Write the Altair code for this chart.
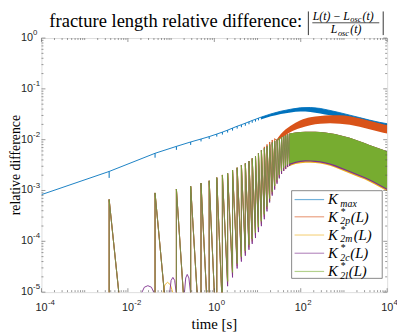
import altair as alt
import pandas as pd

# ---------------- values ----------------
x_domain = [1e-4, 1e4]
y_domain = [1e-5, 1e0]

# oscillation events (times of the spikes) [s]
spike_t = [0.00368, 0.0425, 0.1326, 0.2838, 0.492, 0.761, 1.140, 1.538, 2.031, 2.641,
           3.380, 4.235, 5.224, 6.343, 7.542, 8.969, 10.50, 12.29, 14.38, 16.57,
           19.10, 21.89, 24.96, 28.30, 31.93, 36.03, 40.45, 44.93, 49.89, 55.40]
# value right after each event (K*_2l, the others nearly identical)
green_peak = [6.64e-4, 8.95e-4, 1.07e-3, 1.21e-3, 1.40e-3, 1.55e-3, 1.79e-3, 2.02e-3, 2.18e-3, 2.53e-3,
              2.80e-3, 3.16e-3, 3.41e-3, 3.78e-3, 4.26e-3, 4.73e-3, 5.40e-3, 6.18e-3, 6.76e-3, 7.38e-3,
              8.07e-3, 8.83e-3, 9.44e-3, 1.01e-2, 1.08e-2, 1.13e-2, 1.18e-2, 1.23e-2, 1.29e-2, 1.32e-2]
orange_peak = green_peak[:18] + [7.22e-3, 8.07e-3, 9.02e-3, 9.87e-3, 1.05e-2]
# value just before each event (None = below the axis)
green_trough = [None] * 8 + [1.63e-5, 2.44e-5, 3.65e-5, 4.99e-5, 6.52e-5, 8.51e-5, 1.11e-4, 1.46e-4,
                             1.90e-4, 2.48e-4, 3.40e-4, 4.85e-4, 6.93e-4, 9.48e-4, 1.24e-3, 1.62e-3,
                             2.02e-3, 2.42e-3, 2.77e-3, 3.03e-3, 3.24e-3, 3.38e-3]
yellow_trough = [None] * 8 + [1.46e-5, 2.18e-5, 3.26e-5, 4.46e-5, 5.83e-5, 7.62e-5, 9.95e-5, 1.30e-4,
                              1.70e-4, 2.22e-4, 3.04e-4, 4.34e-4, 6.21e-4, 8.48e-4, 1.11e-3, 1.45e-3,
                              1.81e-3, 2.16e-3, 2.47e-3, 2.70e-3, 2.89e-3, 3.03e-3]
purple_trough = [None] * 8 + [1.31e-5, 1.95e-5, 2.92e-5, 3.99e-5, 5.21e-5, 6.81e-5, 8.91e-5, 1.16e-4,
                              1.52e-4, 1.99e-4, 2.72e-4, 3.88e-4, 5.81e-4, 7.93e-4, 1.04e-3, 1.36e-3,
                              1.73e-3, 2.12e-3, 2.42e-3, 2.64e-3, 2.89e-3, 3.03e-3]
# time where an early decay leaves the axis (1e-5)
floor_hit_t = [6.15e-3, 0.0695, 0.191, 0.399, 0.658, 1.0, 1.48] + [None] * 23

# small bumps near the bottom axis
purple_arc_t = [[0.020, 0.024, 0.029, 0.035, 0.0418],
                [0.0918, 0.100, 0.110, 0.121, 0.1326],
                [0.2018, 0.218, 0.236, 0.258, 0.2838]]
purple_arc_v = [[9e-6, 1.25e-5, 1.34e-5, 1.25e-5, 9e-6],
                [9e-6, 1.7e-5, 1.95e-5, 1.7e-5, 9e-6],
                [9e-6, 1.9e-5, 2.23e-5, 1.9e-5, 9e-6]]
yellow_arc_t = [[0.0635, 0.072, 0.0826, 0.096, 0.113]]
yellow_arc_v = [[9e-6, 1.4e-5, 1.56e-5, 1.4e-5, 9e-6]]

# K_max before the band, with its notches at the events
blue_t = [1e-4] + spike_t[:18]
blue_base = [8.29e-4, 2.37e-3, 5.40e-3, 7.38e-3, 9.02e-3, 1.03e-2, 1.15e-2, 1.29e-2, 1.41e-2, 1.54e-2,
             1.69e-2, 1.84e-2, 1.97e-2, 2.11e-2, 2.25e-2, 2.39e-2, 2.52e-2, 2.66e-2, 2.79e-2]
blue_dip = [1.77e-3, 4.42e-3, 6.31e-3, 7.89e-3, 9.23e-3, 1.03e-2, 1.15e-2, 1.26e-2, 1.38e-2, 1.51e-2,
            1.65e-2, 1.76e-2, 1.88e-2, 2.01e-2, 2.15e-2, 2.27e-2, 2.40e-2, 2.52e-2]

# dense-oscillation envelopes (upper / lower)
blue_band_t = [12.29, 20.46, 34.56, 58.4, 98.6, 166.8, 281.8, 476.2, 805.2, 1361, 2301, 3890, 6577, 1e4]
blue_hi = [2.79e-2, 3.22e-2, 3.63e-2, 3.97e-2, 4.25e-2, 4.30e-2, 4.12e-2, 3.76e-2, 3.40e-2, 3.04e-2,
           2.72e-2, 2.43e-2, 2.20e-2, 2.06e-2]
blue_lo = [2.52e-2, 2.88e-2, 3.22e-2, 3.44e-2, 3.60e-2, 3.52e-2, 3.29e-2, 3.01e-2, 2.69e-2, 2.41e-2,
           2.15e-2, 1.93e-2, 1.72e-2, 1.61e-2]
orange_band_t = [28.30, 34.56, 58.4, 98.6, 166.8, 281.8, 476.2, 805.2, 1361, 2301, 3890, 6577, 1e4]
orange_hi = [1.03e-2, 1.29e-2, 1.88e-2, 2.41e-2, 2.75e-2, 2.94e-2, 3.04e-2, 3.01e-2, 2.88e-2, 2.63e-2,
             2.36e-2, 2.11e-2, 1.93e-2]
orange_lo = [9.44e-3, 1.05e-2, 1.41e-2, 1.69e-2, 1.93e-2, 2.06e-2, 2.11e-2, 2.06e-2, 1.97e-2, 1.80e-2,
             1.61e-2, 1.44e-2, 1.32e-2]
green_band_t = [55.40, 75.9, 128.3, 216.9, 366.6, 619.6, 1047, 1770, 2992, 5058, 1e4]
green_hi = [1.32e-2, 1.38e-2, 1.44e-2, 1.44e-2, 1.38e-2, 1.29e-2, 1.15e-2, 1.01e-2, 8.63e-3, 7.22e-3, 5.91e-3]
green_lo = [3.38e-3, 3.70e-3, 3.95e-3, 3.86e-3, 3.61e-3, 3.16e-3, 2.64e-3, 2.21e-3, 1.85e-3, 1.48e-3, 1.08e-3]
purple_lo = [3.19e-3, 3.49e-3, 3.73e-3, 3.65e-3, 3.41e-3, 2.98e-3, 2.50e-3, 2.09e-3, 1.75e-3, 1.40e-3, 1.02e-3]
yellow_lo = [3.03e-3, 3.31e-3, 3.53e-3, 3.46e-3, 3.24e-3, 2.83e-3, 2.37e-3, 1.98e-3, 1.66e-3, 1.32e-3, 9.69e-4]

legend_names = ["max", "2p", "2m", "2c", "2l"]
x_label_exp = ["-4", "-2", "0", "2", "4"]
y_label_exp = ["0", "-1", "-2", "-3", "-4", "-5"]

# ---------------- styling ----------------
C_BLUE, C_ORANGE, C_YELLOW, C_PURPLE, C_GREEN = "#0072BD", "#D95319", "#EDB120", "#7E2F8E", "#77AC30"
SERIF = "Liberation Serif"
SANS = "Liberation Sans"
AX = "#555555"
W, H = 351, 258
FLOOR = 1e-7

X = lambda f="t": alt.X(f"{f}:Q", scale=alt.Scale(type="log", domain=x_domain), axis=None)
Y = lambda f="v": alt.Y(f"{f}:Q", scale=alt.Scale(type="log", domain=y_domain), axis=None)


def spike_df(times, peaks, troughs, floor_hits, tail=None):
    rows = []
    for i, t in enumerate(times):
        rows.append((t, troughs[i] if troughs[i] is not None else FLOOR))
        rows.append((t, peaks[i]))
        if floor_hits[i] is not None:
            rows.append((floor_hits[i], 1e-5))
            rows.append((floor_hits[i], FLOOR))
    if tail is not None:
        rows.append(tail)
    return pd.DataFrame({"t": [r[0] for r in rows], "v": [r[1] for r in rows], "k": list(range(len(rows)))})


def arc_df(ts, vs):
    rows = []
    for j, (tt, vv) in enumerate(zip(ts, vs)):
        for k, (a, b) in enumerate(zip(tt, vv)):
            rows.append({"t": a, "v": b, "k": k, "arc": j})
    return pd.DataFrame(rows)


def spikes(df, color, opacity=1.0):
    return alt.Chart(df).mark_line(clip=True, color=color, strokeWidth=0.9, opacity=opacity).encode(
        x=X(), y=Y(), order="k:Q")


def arcs(df, color):
    return alt.Chart(df).mark_line(clip=True, color=color, strokeWidth=0.9).encode(
        x=X(), y=Y(), detail="arc:N", order="k:Q")


def band(ts, hi, lo, color):
    df = pd.DataFrame({"t": ts, "hi": hi, "lo": lo})
    return alt.Chart(df).mark_area(clip=True, color=color, interpolate="monotone", opacity=1).encode(
        x=X(), y=Y("hi"), y2="lo:Q")


ONE = pd.DataFrame({"a": [0]})


def txt(text, x, y, size, italic=False, align="left", font=SERIF, baseline="alphabetic", angle=0, color="#000"):
    return alt.Chart(ONE).mark_text(text=text, fontSize=size, font=font, align=align, baseline=baseline,
                                    fontStyle="italic" if italic else "normal", angle=angle, color=color
                                    ).encode(x=alt.value(x), y=alt.value(y))


def hrule(x1, x2, y, color, width=0.8, opacity=1.0):
    return alt.Chart(ONE).mark_rule(color=color, strokeWidth=width, opacity=opacity).encode(
        x=alt.value(x1), x2=alt.value(x2), y=alt.value(y))


def vrule(x, y1, y2, color, width=0.8):
    return alt.Chart(ONE).mark_rule(color=color, strokeWidth=width).encode(
        x=alt.value(x), y=alt.value(y1), y2=alt.value(y2))


layers = []

# K_max
blue_df = pd.DataFrame({"t": blue_t + blue_band_t[1:], "v": blue_base + blue_hi[1:]})
layers.append(alt.Chart(blue_df).mark_line(clip=True, color=C_BLUE, strokeWidth=0.9).encode(x=X(), y=Y()))
notch_df = pd.DataFrame({"t": spike_t[:18], "b": blue_base[1:], "d": blue_dip})
layers.append(alt.Chart(notch_df).mark_rule(clip=True, color=C_BLUE, strokeWidth=1).encode(
    x=X(), y=Y("b"), y2="d:Q"))
layers.append(band(blue_band_t, blue_hi, blue_lo, C_BLUE))

# K*_2p
layers.append(spikes(spike_df(spike_t[:23], orange_peak, green_trough[:23], floor_hit_t[:23],
                              tail=(orange_band_t[0], orange_lo[0])), C_ORANGE))
layers.append(band(orange_band_t, orange_hi, orange_lo, C_ORANGE))
# K*_2m
layers.append(spikes(spike_df(spike_t, green_peak, yellow_trough, floor_hit_t), C_YELLOW))
layers.append(arcs(arc_df(yellow_arc_t, yellow_arc_v), C_YELLOW))
layers.append(band(green_band_t, green_hi, yellow_lo, C_YELLOW))
# K*_2c
layers.append(spikes(spike_df(spike_t, green_peak, purple_trough, floor_hit_t), C_PURPLE))
layers.append(arcs(arc_df(purple_arc_t, purple_arc_v), C_PURPLE))
layers.append(band(green_band_t, green_hi, purple_lo, C_PURPLE))
# K*_2l
layers.append(spikes(spike_df(spike_t, green_peak, green_trough, floor_hit_t), C_GREEN, opacity=0.8))
layers.append(band(green_band_t, green_hi, green_lo, C_GREEN))

# ---- ticks (inside, on all four sides) and tick labels ----
x_major = [10.0 ** e for e in (-4, -2, 0, 2, 4)]
x_minor = [m * 10.0 ** e for e in range(-4, 4) for m in range(2, 11) if m * 10.0 ** e not in x_major]
y_major = [10.0 ** e for e in range(-5, 1)]
y_minor = [m * 10.0 ** e for e in range(-5, 0) for m in range(2, 10)]

for vals, ln in ((x_major, 4), (x_minor, 2)):
    d = pd.DataFrame({"t": vals})
    layers.append(alt.Chart(d).mark_rule(color=AX, strokeWidth=0.6).encode(x=X(), y=alt.value(H), y2=alt.value(H - ln)))
    layers.append(alt.Chart(d).mark_rule(color=AX, strokeWidth=0.6).encode(x=X(), y=alt.value(0), y2=alt.value(ln)))
for vals, ln in ((y_major, 4), (y_minor, 2)):
    d = pd.DataFrame({"v": vals})
    layers.append(alt.Chart(d).mark_rule(color=AX, strokeWidth=0.6).encode(y=Y(), x=alt.value(0), x2=alt.value(ln)))
    layers.append(alt.Chart(d).mark_rule(color=AX, strokeWidth=0.6).encode(y=Y(), x=alt.value(W), x2=alt.value(W - ln)))

xl = pd.DataFrame({"t": x_major, "e": x_label_exp})
layers.append(alt.Chart(xl).mark_text(text="10", font=SANS, fontSize=11, align="center", baseline="middle",
                                      color="#262626").encode(x=X(), y=alt.value(H + 16)))
layers.append(alt.Chart(xl).mark_text(font=SANS, fontSize=8, align="left", baseline="middle", dx=6.5,
                                      color="#262626").encode(x=X(), y=alt.value(H + 11), text="e:N"))
yl = pd.DataFrame({"v": y_major[::-1], "e": y_label_exp})
layers.append(alt.Chart(yl).mark_text(text="10", font=SANS, fontSize=11, align="right", baseline="middle",
                                      color="#262626").encode(y=Y(), x=alt.value(-8.5)))
layers.append(alt.Chart(yl).mark_text(font=SANS, fontSize=8, align="left", baseline="middle", dy=-5,
                                      color="#262626").encode(y=Y(), x=alt.value(-8.5), text="e:N"))

# axis titles
layers.append(txt("time [s]", W / 2, H + 32, 15, align="center", baseline="middle"))
layers.append(txt("relative difference", -22, H / 2, 14, align="center", baseline="alphabetic", angle=270))

# title with the fraction
layers.append(txt("fracture length relative difference:", 8, -11, 18.8))
layers.append(vrule(271, -27, -3, "#000", 0.8))
layers.append(vrule(347, -27, -3, "#000", 0.8))
layers.append(hrule(275, 343, -15.5, "#000", 0.7))
layers.append(txt("L(t)\u2009\u2212\u2009L", 313, -18.5, 12, italic=True, align="right"))
layers.append(txt("osc", 313.5, -16, 8.5, italic=True))
layers.append(txt("(t)", 326, -18.5, 12, italic=True))
layers.append(txt("L", 300.5, -5, 12, italic=True, align="right"))
layers.append(txt("osc", 301, -2.5, 8.5, italic=True))
layers.append(txt("(t)", 313.5, -5, 12, italic=True))

# legend
layers.append(alt.Chart(ONE).mark_rect(fill="white", stroke=AX, strokeWidth=0.7).encode(
    x=alt.value(254), x2=alt.value(346), y=alt.value(155), y2=alt.value(244)))
row_y = [164, 181.5, 200, 218.5, 237]
row_c = [C_BLUE, C_ORANGE, C_YELLOW, C_PURPLE, C_GREEN]
paren_x = [0, 314, 317, 313.5, 312]
for i, (name, ry, col) in enumerate(zip(legend_names, row_y, row_c)):
    layers.append(hrule(257, 287, ry, col, 1.2, 0.55))
    layers.append(txt("K", 291, ry, 15, italic=True, baseline="middle"))
    if i == 0:
        layers.append(txt(name, 303.5, ry + 4.5, 10, italic=True, baseline="middle"))
    else:
        layers.append(txt("*", 304, ry - 5, 10, baseline="middle"))
        layers.append(txt(name, 303.5, ry + 4.5, 10, italic=True, baseline="middle"))
        layers.append(txt("(L)", paren_x[i], ry, 15, italic=True, baseline="middle"))

chart = alt.layer(*layers).properties(
    width=W, height=H, autosize=alt.AutoSizeParams(type="none"),
    padding={"left": 34, "top": 28, "right": 10, "bottom": 40},
).configure_view(stroke=AX, strokeWidth=0.8).configure(background="white")

chart.save("out.html", embed_options={"renderer": "svg", "actions": False})
